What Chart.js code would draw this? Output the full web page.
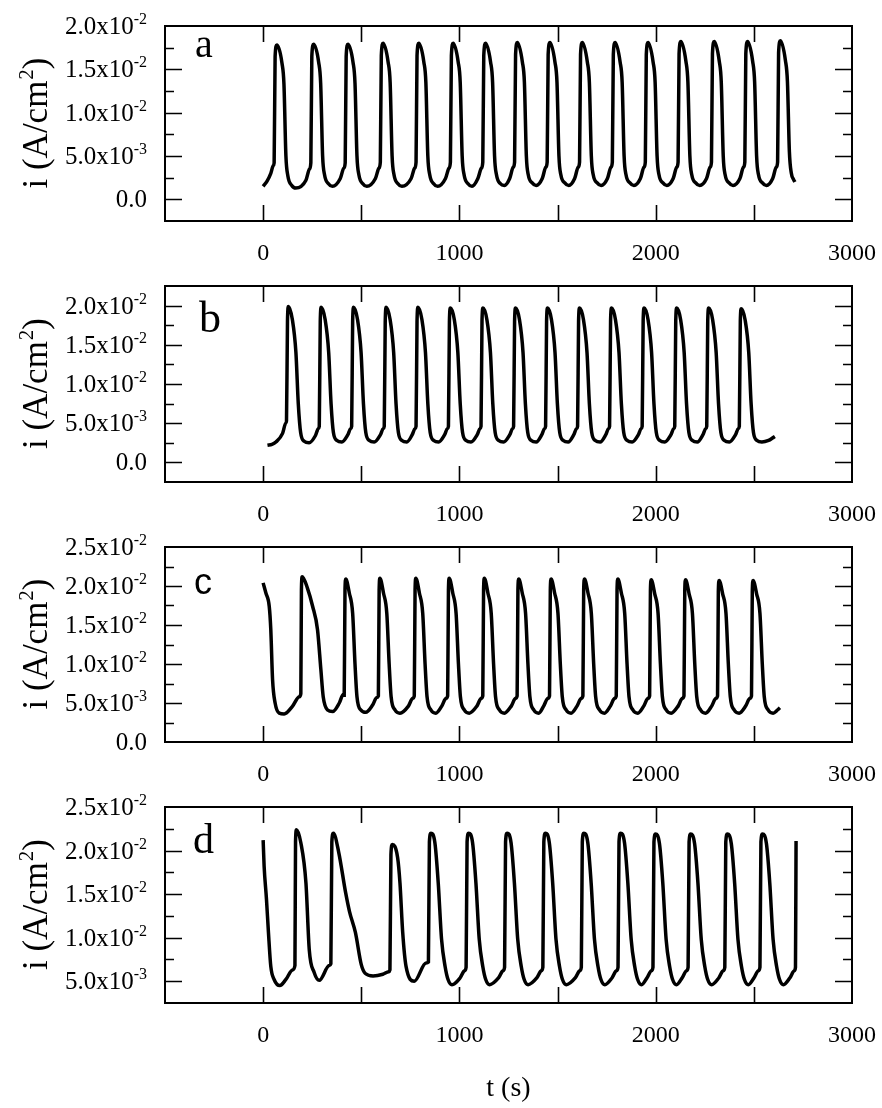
<!DOCTYPE html>
<html>
<head>
<meta charset="utf-8">
<script src="https://cdn.jsdelivr.net/npm/chart.js@4.4.1/dist/chart.umd.min.js"></script>
<style>
  body { margin: 0; background: #fff; width: 882px; height: 1108px; position: relative; overflow: hidden; }
  canvas { position: absolute; left: 0; }
</style>
</head>
<body>
<canvas id="pa"></canvas>
<canvas id="pb"></canvas>
<canvas id="pc"></canvas>
<canvas id="pd"></canvas>
<script>
// current density i (A/cm2) vs time t (s)
const panelA = [
  [0,1.5e-3],[20,2.1e-3],[39,3.0e-3],[52,3.9e-3],
  [56,4.2e-3],[61,1.65e-2],[70,1.78e-2],[96,1.57e-2],[106,1.33e-2],[116,5.0e-3],[126,2.7e-3],[146,1.6e-3],[166,1.3e-3],[218,2.2e-3],[236,3.5e-3],
  [243,4.2e-3],[248,1.65e-2],[257,1.79e-2],[283,1.58e-2],[293,1.34e-2],[303,5.0e-3],[313,2.8e-3],[333,1.8e-3],[353,1.5e-3],[393,2.4e-3],[411,3.6e-3],
  [418,4.2e-3],[423,1.65e-2],[432,1.79e-2],[458,1.58e-2],[468,1.34e-2],[478,5.0e-3],[488,2.8e-3],[508,1.8e-3],[528,1.5e-3],[572,2.4e-3],[590,3.6e-3],
  [597,4.3e-3],[602,1.66e-2],[611,1.80e-2],[637,1.58e-2],[647,1.35e-2],[657,5.0e-3],[667,2.8e-3],[687,1.8e-3],[707,1.5e-3],[754,2.4e-3],[772,3.6e-3],
  [779,4.3e-3],[784,1.66e-2],[793,1.80e-2],[819,1.58e-2],[829,1.35e-2],[839,5.0e-3],[849,2.8e-3],[869,1.8e-3],[889,1.5e-3],[929,2.4e-3],[947,3.6e-3],
  [954,4.3e-3],[959,1.66e-2],[968,1.80e-2],[994,1.58e-2],[1004,1.35e-2],[1014,5.0e-3],[1024,2.8e-3],[1044,1.8e-3],[1064,1.5e-3],[1094,2.4e-3],[1112,3.6e-3],
  [1119,4.3e-3],[1124,1.66e-2],[1133,1.80e-2],[1159,1.58e-2],[1169,1.35e-2],[1179,5.0e-3],[1189,2.8e-3],[1209,1.8e-3],[1229,1.6e-3],[1256,2.4e-3],[1274,3.7e-3],
  [1281,4.3e-3],[1286,1.67e-2],[1295,1.81e-2],[1321,1.58e-2],[1331,1.35e-2],[1341,5.0e-3],[1351,2.8e-3],[1371,1.9e-3],[1391,1.6e-3],[1422,2.4e-3],[1440,3.7e-3],
  [1447,4.3e-3],[1452,1.67e-2],[1461,1.81e-2],[1487,1.58e-2],[1497,1.35e-2],[1507,5.0e-3],[1517,2.8e-3],[1537,1.9e-3],[1557,1.6e-3],[1587,2.4e-3],[1605,3.7e-3],
  [1612,4.3e-3],[1617,1.67e-2],[1626,1.81e-2],[1652,1.58e-2],[1662,1.35e-2],[1672,5.0e-3],[1682,2.8e-3],[1702,1.9e-3],[1722,1.6e-3],[1754,2.4e-3],[1772,3.7e-3],
  [1779,4.3e-3],[1784,1.67e-2],[1793,1.81e-2],[1819,1.58e-2],[1829,1.35e-2],[1839,5.0e-3],[1849,2.8e-3],[1869,1.9e-3],[1889,1.6e-3],[1922,2.4e-3],[1940,3.7e-3],
  [1947,4.3e-3],[1952,1.67e-2],[1961,1.81e-2],[1987,1.58e-2],[1997,1.35e-2],[2007,5.0e-3],[2017,2.8e-3],[2037,1.9e-3],[2057,1.6e-3],[2089,2.4e-3],[2107,3.7e-3],
  [2114,4.3e-3],[2119,1.68e-2],[2128,1.82e-2],[2154,1.59e-2],[2164,1.35e-2],[2174,5.0e-3],[2184,2.8e-3],[2204,1.9e-3],[2224,1.6e-3],[2259,2.4e-3],[2277,3.7e-3],
  [2284,4.3e-3],[2289,1.68e-2],[2298,1.82e-2],[2324,1.59e-2],[2334,1.35e-2],[2344,5.0e-3],[2354,2.8e-3],[2374,1.9e-3],[2394,1.6e-3],[2429,2.4e-3],[2447,3.7e-3],
  [2454,4.3e-3],[2459,1.68e-2],[2468,1.82e-2],[2494,1.59e-2],[2504,1.35e-2],[2514,5.0e-3],[2524,2.8e-3],[2544,1.9e-3],[2564,1.6e-3],[2596,2.4e-3],[2614,3.7e-3],
  [2621,4.3e-3],[2626,1.69e-2],[2635,1.83e-2],[2661,1.60e-2],[2671,1.36e-2],[2681,5.5e-3],[2691,3.0e-3],[2702,2.3e-3],[2709,2.0e-3]
];

const panelB = [
  [22,2.2e-3],[45,2.3e-3],[65,2.6e-3],[99,3.7e-3],[115,5.0e-3],
  [119,5.3e-3],[124,1.8e-2],[129,1.99e-2],[149,1.82e-2],[167,1.40e-2],[179,7.5e-3],[191,3.8e-3],[209,2.7e-3],[234,2.5e-3],[266,3.4e-3],[281,4.3e-3],
  [286,4.6e-3],[291,1.8e-2],[296,1.98e-2],[316,1.82e-2],[334,1.40e-2],[346,7.5e-3],[358,3.8e-3],[376,2.8e-3],[401,2.6e-3],[431,3.5e-3],[446,4.3e-3],
  [451,4.6e-3],[456,1.8e-2],[461,1.98e-2],[481,1.82e-2],[499,1.40e-2],[511,7.5e-3],[523,3.8e-3],[541,2.8e-3],[566,2.6e-3],[597,3.5e-3],[612,4.3e-3],
  [617,4.6e-3],[622,1.8e-2],[627,1.98e-2],[647,1.82e-2],[665,1.40e-2],[677,7.5e-3],[689,3.8e-3],[707,2.8e-3],[732,2.6e-3],[759,3.5e-3],[774,4.3e-3],
  [779,4.6e-3],[784,1.8e-2],[789,1.98e-2],[809,1.82e-2],[827,1.40e-2],[839,7.5e-3],[851,3.8e-3],[869,2.8e-3],[894,2.6e-3],[924,3.5e-3],[939,4.3e-3],
  [944,4.6e-3],[949,1.8e-2],[954,1.97e-2],[974,1.82e-2],[992,1.40e-2],[1004,7.5e-3],[1016,3.8e-3],[1034,2.8e-3],[1059,2.6e-3],[1090,3.5e-3],[1105,4.3e-3],
  [1110,4.6e-3],[1115,1.8e-2],[1120,1.97e-2],[1140,1.82e-2],[1158,1.40e-2],[1170,7.5e-3],[1182,3.8e-3],[1200,2.8e-3],[1225,2.6e-3],[1256,3.5e-3],[1271,4.3e-3],
  [1276,4.6e-3],[1281,1.8e-2],[1286,1.97e-2],[1306,1.82e-2],[1324,1.40e-2],[1336,7.5e-3],[1348,3.8e-3],[1366,2.8e-3],[1391,2.6e-3],[1419,3.5e-3],[1434,4.3e-3],
  [1439,4.6e-3],[1444,1.8e-2],[1449,1.97e-2],[1469,1.82e-2],[1487,1.40e-2],[1499,7.5e-3],[1511,3.8e-3],[1529,2.8e-3],[1554,2.6e-3],[1582,3.5e-3],[1597,4.3e-3],
  [1602,4.6e-3],[1607,1.8e-2],[1612,1.97e-2],[1632,1.82e-2],[1650,1.40e-2],[1662,7.5e-3],[1674,3.8e-3],[1692,2.8e-3],[1717,2.6e-3],[1745,3.5e-3],[1760,4.3e-3],
  [1765,4.6e-3],[1770,1.8e-2],[1775,1.97e-2],[1795,1.82e-2],[1813,1.40e-2],[1825,7.5e-3],[1837,3.8e-3],[1855,2.8e-3],[1880,2.6e-3],[1911,3.5e-3],[1926,4.3e-3],
  [1931,4.6e-3],[1936,1.8e-2],[1941,1.97e-2],[1961,1.82e-2],[1979,1.40e-2],[1991,7.5e-3],[2003,3.8e-3],[2021,2.8e-3],[2046,2.6e-3],[2077,3.5e-3],[2092,4.3e-3],
  [2097,4.6e-3],[2102,1.8e-2],[2107,1.97e-2],[2127,1.82e-2],[2145,1.40e-2],[2157,7.5e-3],[2169,3.8e-3],[2187,2.8e-3],[2212,2.6e-3],[2240,3.5e-3],[2255,4.3e-3],
  [2260,4.6e-3],[2265,1.8e-2],[2270,1.97e-2],[2290,1.82e-2],[2308,1.40e-2],[2320,7.5e-3],[2332,3.8e-3],[2350,2.8e-3],[2375,2.6e-3],[2406,3.5e-3],[2421,4.3e-3],
  [2426,4.6e-3],[2431,1.8e-2],[2436,1.96e-2],[2456,1.81e-2],[2474,1.40e-2],[2486,7.5e-3],[2498,3.8e-3],[2516,2.8e-3],[2541,2.6e-3],[2575,2.8e-3],[2595,3.1e-3],[2607,3.3e-3]
];

const panelC = [
  [0,2.04e-2],[14,1.91e-2],[31,1.74e-2],[39,1.44e-2],[48,8.0e-3],[61,5.0e-3],[82,3.7e-3],[107,3.6e-3],[150,4.6e-3],[184,5.8e-3],
  [192,6.2e-3],[195,1.95e-2],[199,2.12e-2],[226,1.97e-2],[252,1.74e-2],[277,1.44e-2],[294,9.3e-3],[306,5.8e-3],[328,4.1e-3],[354,3.9e-3],[388,5.0e-3],[408,6.1e-3],
  [413,6.0e-3],[417,1.95e-2],[421,2.09e-2],[439,1.91e-2],[456,1.65e-2],[468,1.0e-2],[478,5.8e-3],[498,4.1e-3],[523,3.8e-3],[557,4.7e-3],[579,5.7e-3],
  [587,5.9e-3],[591,1.95e-2],[595,2.10e-2],[613,1.91e-2],[630,1.65e-2],[642,1.0e-2],[652,5.8e-3],[672,4.1e-3],[697,3.7e-3],[740,4.6e-3],[762,5.6e-3],
  [770,5.9e-3],[774,1.95e-2],[778,2.10e-2],[796,1.91e-2],[813,1.65e-2],[825,1.0e-2],[835,5.8e-3],[855,4.1e-3],[880,3.7e-3],[910,4.6e-3],[932,5.6e-3],
  [940,5.9e-3],[944,1.95e-2],[948,2.10e-2],[966,1.91e-2],[983,1.65e-2],[995,1.0e-2],[1005,5.8e-3],[1025,4.1e-3],[1050,3.7e-3],[1089,4.6e-3],[1111,5.6e-3],
  [1119,5.9e-3],[1123,1.95e-2],[1127,2.10e-2],[1145,1.91e-2],[1162,1.65e-2],[1174,1.0e-2],[1184,5.8e-3],[1204,4.1e-3],[1229,3.7e-3],[1264,4.6e-3],[1286,5.6e-3],
  [1294,5.9e-3],[1298,1.95e-2],[1302,2.09e-2],[1320,1.91e-2],[1337,1.65e-2],[1349,1.0e-2],[1359,5.8e-3],[1379,4.1e-3],[1404,3.7e-3],[1429,4.6e-3],[1451,5.6e-3],
  [1459,5.9e-3],[1463,1.95e-2],[1467,2.09e-2],[1485,1.91e-2],[1502,1.65e-2],[1514,1.0e-2],[1524,5.8e-3],[1544,4.1e-3],[1569,3.7e-3],[1599,4.6e-3],[1621,5.6e-3],
  [1629,5.9e-3],[1633,1.95e-2],[1637,2.09e-2],[1655,1.91e-2],[1672,1.65e-2],[1684,1.0e-2],[1694,5.8e-3],[1714,4.1e-3],[1739,3.7e-3],[1769,4.6e-3],[1791,5.6e-3],
  [1799,5.9e-3],[1803,1.95e-2],[1807,2.09e-2],[1825,1.91e-2],[1842,1.65e-2],[1854,1.0e-2],[1864,5.8e-3],[1884,4.1e-3],[1909,3.7e-3],[1939,4.6e-3],[1961,5.6e-3],
  [1969,5.9e-3],[1973,1.94e-2],[1977,2.08e-2],[1995,1.90e-2],[2012,1.65e-2],[2024,1.0e-2],[2034,5.8e-3],[2054,4.1e-3],[2079,3.7e-3],[2114,4.6e-3],[2136,5.6e-3],
  [2144,5.9e-3],[2148,1.94e-2],[2152,2.08e-2],[2170,1.90e-2],[2187,1.65e-2],[2199,1.0e-2],[2209,5.8e-3],[2229,4.1e-3],[2254,3.7e-3],[2285,4.6e-3],[2307,5.6e-3],
  [2315,5.9e-3],[2319,1.93e-2],[2323,2.07e-2],[2341,1.90e-2],[2358,1.65e-2],[2370,1.0e-2],[2380,5.8e-3],[2400,4.1e-3],[2425,3.7e-3],[2458,4.6e-3],[2480,5.6e-3],
  [2488,5.9e-3],[2492,1.93e-2],[2496,2.07e-2],[2514,1.90e-2],[2531,1.65e-2],[2543,1.0e-2],[2553,5.8e-3],[2573,4.1e-3],[2598,3.7e-3],[2620,4.1e-3],[2633,4.4e-3]
];

const panelD = [
  [0,2.12e-2],[5,1.82e-2],[17,1.44e-2],[27,1.06e-2],[39,6.7e-3],[56,5.2e-3],[85,4.5e-3],[116,5.2e-3],[150,6.3e-3],
  [162,6.8e-3],[165,2.1e-2],[170,2.24e-2],[192,2.09e-2],[218,1.63e-2],[235,8.6e-3],[260,6.0e-3],[286,5.1e-3],[337,6.8e-3],
  [345,7.0e-3],[350,2.1e-2],[358,2.2e-2],[385,1.98e-2],[420,1.52e-2],[440,1.3e-2],[470,1.06e-2],[500,6.9e-3],[520,5.9e-3],[560,5.6e-3],[610,5.8e-3],[640,6.1e-3],
  [646,6.3e-3],[651,1.95e-2],[658,2.07e-2],[685,1.92e-2],[697,1.63e-2],[711,1.06e-2],[728,6.7e-3],[770,5.0e-3],[830,7.1e-3],
  [842,7.2e-3],[847,2.1e-2],[855,2.2e-2],[875,2.09e-2],[892,1.63e-2],[909,9.8e-3],[927,6.7e-3],[942,5.2e-3],[962,4.6e-3],[1004,5.4e-3],[1026,6.2e-3],
  [1034,6.6e-3],[1039,2.1e-2],[1047,2.2e-2],[1067,2.09e-2],[1084,1.63e-2],[1101,9.8e-3],[1119,6.7e-3],[1134,5.2e-3],[1154,4.6e-3],[1200,5.4e-3],[1222,6.2e-3],
  [1230,6.6e-3],[1235,2.1e-2],[1243,2.2e-2],[1263,2.09e-2],[1280,1.63e-2],[1297,9.8e-3],[1315,6.7e-3],[1330,5.2e-3],[1350,4.6e-3],[1395,5.4e-3],[1417,6.2e-3],
  [1425,6.6e-3],[1430,2.1e-2],[1438,2.2e-2],[1458,2.09e-2],[1475,1.63e-2],[1492,9.8e-3],[1510,6.7e-3],[1525,5.2e-3],[1545,4.6e-3],[1591,5.4e-3],[1613,6.2e-3],
  [1621,6.6e-3],[1626,2.1e-2],[1634,2.2e-2],[1654,2.09e-2],[1671,1.63e-2],[1688,9.8e-3],[1706,6.7e-3],[1721,5.2e-3],[1741,4.6e-3],[1778,5.4e-3],[1800,6.2e-3],
  [1808,6.6e-3],[1813,2.1e-2],[1821,2.2e-2],[1841,2.09e-2],[1858,1.63e-2],[1875,9.8e-3],[1893,6.7e-3],[1908,5.2e-3],[1928,4.6e-3],[1956,5.4e-3],[1978,6.2e-3],
  [1986,6.6e-3],[1991,2.1e-2],[1999,2.19e-2],[2019,2.08e-2],[2036,1.63e-2],[2053,9.8e-3],[2071,6.7e-3],[2086,5.2e-3],[2106,4.6e-3],[2135,5.4e-3],[2157,6.2e-3],
  [2165,6.6e-3],[2170,2.1e-2],[2178,2.19e-2],[2198,2.08e-2],[2215,1.63e-2],[2232,9.8e-3],[2250,6.7e-3],[2265,5.2e-3],[2285,4.6e-3],[2322,5.4e-3],[2344,6.2e-3],
  [2352,6.6e-3],[2357,2.1e-2],[2365,2.19e-2],[2385,2.08e-2],[2402,1.63e-2],[2419,9.8e-3],[2437,6.7e-3],[2452,5.2e-3],[2472,4.6e-3],[2501,5.4e-3],[2523,6.2e-3],
  [2531,6.6e-3],[2536,2.1e-2],[2544,2.19e-2],[2564,2.08e-2],[2581,1.63e-2],[2598,9.8e-3],[2616,6.7e-3],[2631,5.2e-3],[2651,4.6e-3],[2684,5.4e-3],[2706,6.2e-3],
  [2712,6.6e-3],[2715,2.11e-2]
];

const panelLetters = ['a', 'b', 'c', 'd'];
const xTickLabels = [0, 1000, 2000, 3000];
const yTickLabelsA = [0, 5e-3, 1e-2, 1.5e-2, 2e-2];
const yTickLabelsB = [0, 5e-3, 1e-2, 1.5e-2, 2e-2];
const yTickLabelsC = [0, 5e-3, 1e-2, 1.5e-2, 2e-2, 2.5e-2];
const yTickLabelsD = [5e-3, 1e-2, 1.5e-2, 2e-2, 2.5e-2];
const yTitle = ['i (A/cm', '2', ')'];
const xTitle = 't (s)';

const SERIF = '"Liberation Serif", "Times New Roman", serif';

// layout of each panel (page pixels)
const panels = [
  { id: 'pa', data: panelA, labels: yTickLabelsA, yMin: -2.5e-3, yMax: 2.0e-2,  top: 26,  bottom: 221,  h: 255, letter: 0, lx: 195, ly: 57,  lfont: '40px ' + SERIF },
  { id: 'pb', data: panelB, labels: yTickLabelsB, yMin: -2.5e-3, yMax: 2.25e-2, top: 286, bottom: 482,  h: 255, letter: 1, lx: 199, ly: 332, lfont: '44px ' + SERIF },
  { id: 'pc', data: panelC, labels: yTickLabelsC, yMin: 0,       yMax: 2.5e-2,  top: 547, bottom: 742,  h: 255, letter: 2, lx: 194, ly: 594, lfont: '36px "Liberation Sans", Arial, sans-serif' },
  { id: 'pd', data: panelD, labels: yTickLabelsD, yMin: 2.5e-3,  yMax: 2.5e-2,  top: 807, bottom: 1003, h: 321, letter: 3, lx: 193, ly: 853, lfont: '42px ' + SERIF, xTitle: true }
];

function sci(v) {
  if (v === 0) return ['0.0', ''];
  const e = Math.floor(Math.log10(v) + 1e-9);
  return [(v / Math.pow(10, e)).toFixed(1) + 'x10', String(e)];
}

function framePlugin(p, canvasTop) {
  return {
    id: 'frame',
    afterDatasetsDraw(chart) {
      const { ctx, chartArea: a, scales: { x, y } } = chart;
      ctx.save();
      ctx.strokeStyle = '#000';
      ctx.fillStyle = '#000';

      // inward ticks, x every 500
      ctx.lineWidth = 1.6;
      ctx.beginPath();
      for (let v = x.min + 500; v < x.max; v += 500) {
        const px = Math.round(x.getPixelForValue(v)) + 0.5;
        ctx.moveTo(px, a.bottom); ctx.lineTo(px, a.bottom - 16);
        ctx.moveTo(px, a.top); ctx.lineTo(px, a.top + 16);
      }
      // y every 2.5e-3, major every 5e-3
      const k0 = Math.round(p.yMin / 2.5e-3), k1 = Math.round(p.yMax / 2.5e-3);
      for (let k = k0 + 1; k < k1; k++) {
        const py = Math.round(y.getPixelForValue(k * 2.5e-3)) + 0.5;
        const len = (k % 2 === 0) ? 17 : 9;
        ctx.moveTo(a.left, py); ctx.lineTo(a.left + len, py);
        ctx.moveTo(a.right, py); ctx.lineTo(a.right - len, py);
      }
      ctx.stroke();

      ctx.lineWidth = 2;
      ctx.strokeRect(a.left, a.top, a.right - a.left, a.bottom - a.top);

      // x tick labels
      ctx.font = '24px ' + SERIF;
      ctx.textAlign = 'center';
      ctx.textBaseline = 'alphabetic';
      xTickLabels.forEach(v => ctx.fillText(String(v), x.getPixelForValue(v), a.bottom + 39));

      // y tick labels with exponent
      const rightEdge = 147;
      p.labels.forEach(v => {
        const [m, e] = sci(v);
        const py = y.getPixelForValue(v);
        ctx.font = '16px ' + SERIF;
        const ew = e ? ctx.measureText(e).width : 0;
        ctx.textAlign = 'left';
        if (e) ctx.fillText(e, rightEdge - ew, py - 2);
        ctx.font = '25px ' + SERIF;
        ctx.textAlign = 'right';
        ctx.fillText(m, rightEdge - ew, py + 8);
      });

      // y title, rotated
      ctx.save();
      ctx.translate(47, (a.top + a.bottom) / 2);
      ctx.rotate(-Math.PI / 2);
      ctx.textAlign = 'left';
      ctx.font = '35px ' + SERIF;
      const w0 = ctx.measureText(yTitle[0]).width;
      const w2 = ctx.measureText(yTitle[2]).width;
      ctx.font = '21px ' + SERIF;
      const w1 = ctx.measureText(yTitle[1]).width;
      const start = -(w0 + w1 + w2) / 2;
      ctx.font = '35px ' + SERIF;
      ctx.fillText(yTitle[0], start, 0);
      ctx.font = '21px ' + SERIF;
      ctx.fillText(yTitle[1], start + w0 + 1, -14);
      ctx.font = '35px ' + SERIF;
      ctx.fillText(yTitle[2], start + w0 + w1 + 1, 0);
      ctx.restore();

      // panel letter
      ctx.font = p.lfont;
      ctx.textAlign = 'left';
      ctx.fillText(panelLetters[p.letter], p.lx, p.ly - canvasTop);

      if (p.xTitle) {
        ctx.font = '28px ' + SERIF;
        ctx.textAlign = 'center';
        ctx.fillText(xTitle, (a.left + a.right) / 2, 1096 - canvasTop);
      }
      ctx.restore();
    }
  };
}

panels.forEach(p => {
  const canvasTop = p.top - 20;
  const cv = document.getElementById(p.id);
  cv.width = 882;
  cv.height = p.h;
  cv.style.top = canvasTop + 'px';
  const plotH = p.bottom - p.top;

  new Chart(cv.getContext('2d'), {
    type: 'scatter',
    data: {
      datasets: [{
        data: p.data.map(([t, i]) => ({ x: t, y: i })),
        showLine: true,
        borderColor: '#000',
        borderWidth: 3.5,
        pointRadius: 0,
        fill: false,
        cubicInterpolationMode: 'monotone'
      }]
    },
    options: {
      responsive: false,
      devicePixelRatio: 1,
      animation: false,
      events: [],
      layout: { padding: { left: 165, right: 30, top: 20, bottom: p.h - 20 - plotH } },
      plugins: { legend: { display: false }, tooltip: { enabled: false } },
      scales: {
        x: { type: 'linear', min: -500, max: 3000, display: false },
        y: { type: 'linear', min: p.yMin, max: p.yMax, display: false }
      }
    },
    plugins: [framePlugin(p, canvasTop)]
  });
});
</script>
</body>
</html>
